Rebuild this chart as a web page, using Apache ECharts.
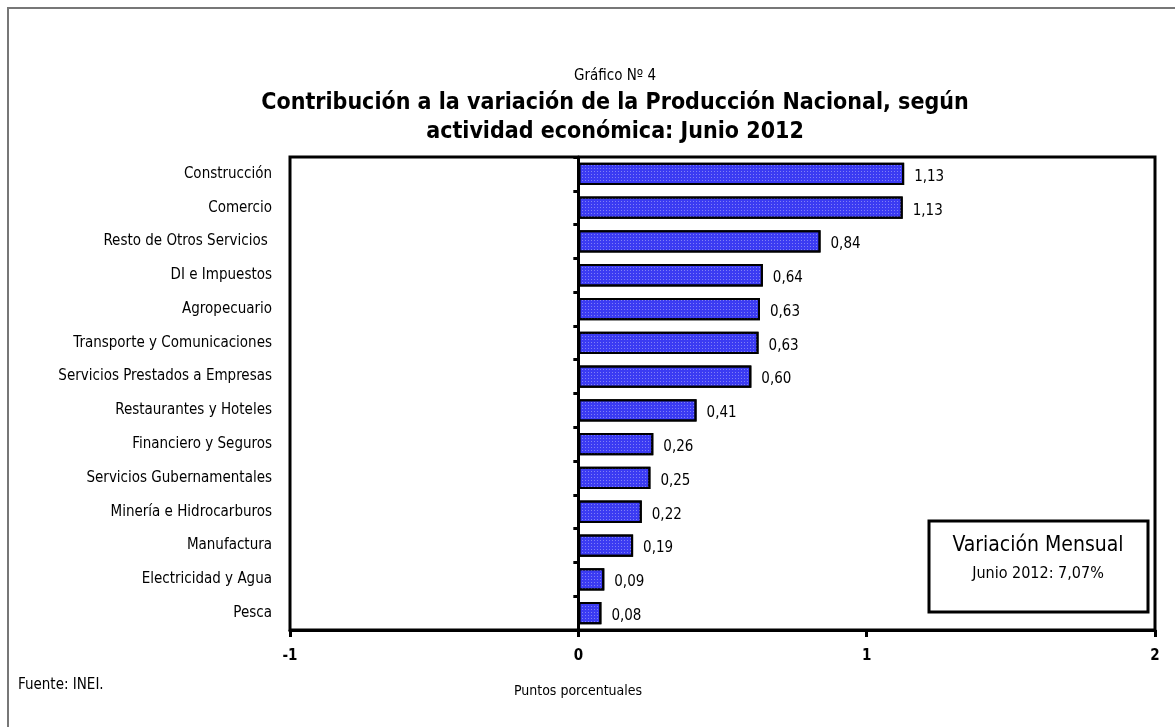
<!DOCTYPE html>
<html>
<head>
<meta charset="utf-8">
<script src="https://cdn.jsdelivr.net/npm/echarts@6/dist/echarts.min.js"></script>
<style>
html,body{margin:0;padding:0;background:#fff;}
#chart{width:1175px;height:727px;}
</style>
</head>
<body>
<div id="chart"></div>
<script>
var categories = ['Construcción','Comercio','Resto de Otros Servicios ','DI e Impuestos','Agropecuario','Transporte y Comunicaciones','Servicios Prestados a Empresas','Restaurantes y Hoteles','Financiero y Seguros','Servicios Gubernamentales','Minería e Hidrocarburos','Manufactura','Electricidad y Agua','Pesca'];
var values = [1.13, 1.125, 0.84, 0.64, 0.63, 0.625, 0.60, 0.41, 0.26, 0.25, 0.22, 0.19, 0.09, 0.08];
var xTicks = [-1, 0, 1, 2];

var FONT = "'Liberation Sans Narrow','DejaVu Sans Condensed','Liberation Sans',sans-serif";
var chart = echarts.init(document.getElementById('chart'));
var option = {
  backgroundColor: '#fff',
  animation: false,
  textStyle: {fontFamily: FONT},
  title: {
    text: 'Gráfico Nº 4',
    subtext: 'Contribución a la variación de la Producción Nacional, según\nactividad económica: Junio 2012',
    left: 610, top: 64, textAlign: 'center',
    itemGap: 5,
    textStyle: {fontFamily: FONT, fontSize: 15, fontWeight: 'normal', color: '#000'},
    subtextStyle: {fontFamily: FONT, fontSize: 23, fontWeight: 'bold', color: '#000', lineHeight: 29, align: 'center'}
  },
  grid: {left: 290, top: 157, right: 20, bottom: 97, show: true, borderColor: '#000', borderWidth: 3, backgroundColor: '#fff'},
  xAxis: {
    type: 'value', min: xTicks[0], max: xTicks[xTicks.length-1], interval: 1,
    axisLine: {show: true, onZero: false, lineStyle: {color: '#000', width: 3}},
    axisTick: {show: true, length: 7, lineStyle: {color: '#000', width: 3}},
    axisLabel: {fontFamily: FONT, fontSize: 15, fontWeight: 'bold', color: '#000', margin: 19},
    splitLine: {show: false}
  },
  yAxis: [{
    type: 'category', data: categories, inverse: true, position: 'left',
    axisLine: {show: false, onZero: false}, axisTick: {show: false},
    axisLabel: {fontFamily: FONT, fontSize: 15, color: '#000', margin: 18, padding: [4, 0, 0, 0]}
  }, {
    type: 'category', data: categories, inverse: true, position: 'left',
    axisLine: {show: true, onZero: true, onZeroAxisIndex: 0, lineStyle: {color: '#000', width: 3}},
    axisTick: {show: true, length: 5, lineStyle: {color: '#000', width: 3}},
    axisLabel: {show: false}
  }],
  series: [{
    type: 'bar', data: values, yAxisIndex: 0, barCategoryGap: '34%',
    itemStyle: {
      color: '#3b3bf2', borderColor: '#000', borderWidth: 2,
      decal: {symbol: 'rect', symbolSize: 1, color: 'rgba(255,255,255,0.35)', dashArrayX: [1, 2], dashArrayY: [1, 2], rotation: 0}
    },
    label: {
      show: true, position: 'right', distance: 10, offset: [0, 3],
      fontFamily: FONT, fontSize: 15, color: '#000',
      formatter: function(p){ return p.value.toFixed(2).replace('.', ','); }
    }
  }],
  graphic: [
    {type: 'rect', shape: {x: 8, y: 8, width: 1200, height: 760}, style: {fill: null, stroke: '#777', lineWidth: 2}, silent: true, z: -10},
    {type: 'rect', shape: {x: 929, y: 521, width: 219, height: 91}, style: {fill: '#fff', stroke: '#000', lineWidth: 3}, z: 100},
    {type: 'text', x: 1038, y: 535, style: {text: 'Variación Mensual', fontFamily: FONT, fontSize: 21, fill: '#000', align: 'center'}, z: 101},
    {type: 'text', x: 1038, y: 566, style: {text: 'Junio 2012: 7,07%', fontFamily: FONT, fontSize: 16, fill: '#000', align: 'center'}, z: 101},
    {type: 'text', x: 18, y: 678, style: {text: 'Fuente: INEI.', fontFamily: FONT, fontSize: 15, fill: '#000'}, z: 101},
    {type: 'text', x: 578, y: 684, style: {text: 'Puntos porcentuales', fontFamily: FONT, fontSize: 14, fill: '#000', align: 'center'}, z: 101}
  ]
};
chart.setOption(option);
</script>
</body>
</html>
